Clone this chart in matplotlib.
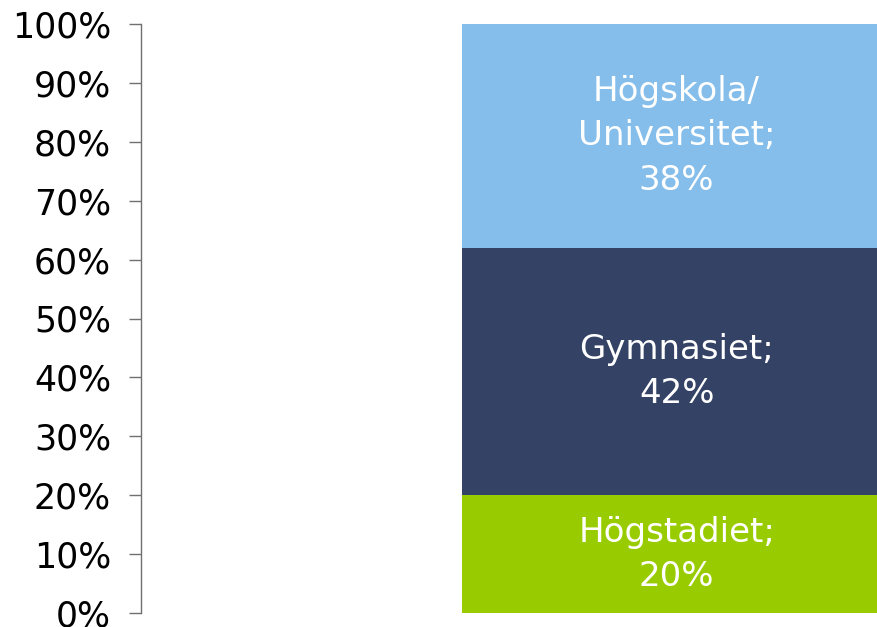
import numpy as np
import matplotlib.pyplot as plt

# andelar per utbildningsnivå (nedifrån och upp)
nivaer = ['Högstadiet', 'Gymnasiet', 'Högskola/\nUniversitet']
andelar = [20, 42, 38]
farger = ['#99CC00', '#344265', '#85BEEA']
yticks = np.arange(0, 101, 10)

fig = plt.figure(figsize=(8.78, 6.27), dpi=100)
ax = fig.add_axes([141/878, 14/627, 737/878, 589/627])

botten = 0
for namn, v, f in zip(nivaer, andelar, farger):
    ax.bar(0, v, width=0.8, bottom=botten, color=f)
    ax.text(0, botten + v/2, f'{namn};\n{v}%', ha='center', va='center',
            color='white', fontsize=24.5, linespacing=1.43)
    botten += v

ax.set_xlim(-1.0, 0.376)
ax.set_ylim(0, 100)
ax.set_yticks(yticks)
ax.set_yticklabels([f'{t}%' for t in yticks], fontsize=25)
ax.tick_params(axis='y', length=8.6, width=1, color='#707070', pad=13)
ax.set_xticks([])
for s in ['top', 'right', 'bottom']:
    ax.spines[s].set_visible(False)
ax.spines['left'].set_color('#707070')
ax.spines['left'].set_linewidth(1)

fig.savefig('out.png', dpi=100)
